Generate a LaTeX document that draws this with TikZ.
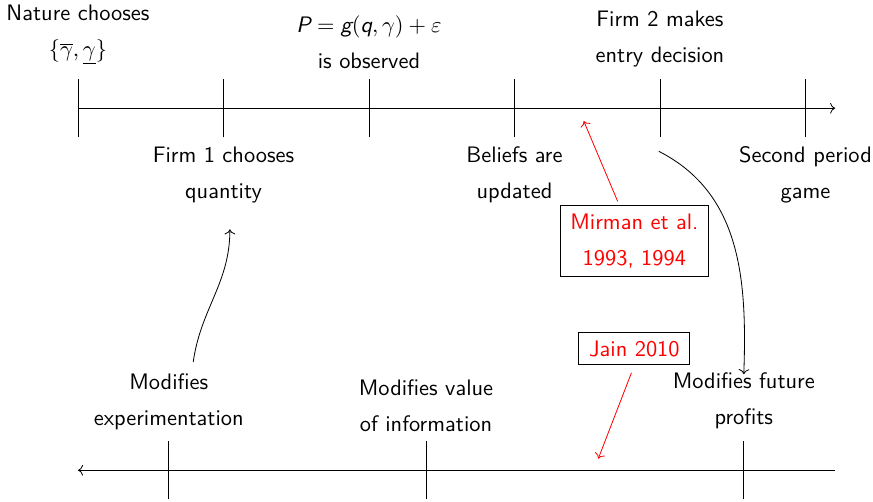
\documentclass[tikz,border=0pt]{standalone}
\usepackage{tikz}
\usetikzlibrary{arrows.meta,positioning,calc}
\newcommand{\sv}[1]{\textsf{\slshape #1}}

\begin{document}
\begin{tikzpicture}[
  lbl/.style={align=center,font=\sffamily\fontsize{10.95}{17.6}\selectfont},
  refbox/.style={rectangle,draw=black,text=red,align=center,inner xsep=5pt,inner ysep=4pt,font=\sffamily\fontsize{10.95}{17.6}\selectfont},
  tickmark/.style={thin},
  arr/.style={->,thin},
  redarr/.style={->,thin,draw=red}
]
\useasboundingbox (0,0) rectangle (15.0,8.61);
% first timeline
\draw[arr] (1.34,6.75) -- (14.35,6.75);
\foreach \x in {1.34,3.84,6.34,8.84,11.34,13.84}
  \draw[tickmark] (\x,6.25) -- (\x,7.25);
\node[lbl] (nat) at (1.34,8.01) {Nature chooses\\$\{\overline{\gamma},\underline{\gamma}\}$};
\node[lbl] (obs) at (6.34,7.88) {$\sv{P}=\sv{g}(\sv{q},\gamma)+\varepsilon$\\is observed};
\node[lbl] (entry) at (11.34,7.94) {Firm 2 makes\\entry decision};
\node[lbl] (qty) at (3.84,5.6) {Firm 1 chooses\\quantity};
\node[lbl] (upd) at (8.84,5.6) {Beliefs are\\updated};
\node[lbl] (game) at (13.84,5.6) {Second period\\game};
% second timeline
\draw[arr] (14.35,0.53) -- (1.34,0.53);
\foreach \x in {2.90,7.32,12.78}
  \draw[tickmark] (\x,0.03) -- (\x,1.03);
\node[lbl] (exper) at (2.90,1.70) {Modifies\\experimentation};
\node[lbl] (info) at (7.32,1.63) {Modifies value\\of information};
\node[lbl] (prof) at (12.78,1.72) {Modifies future\\profits};
% literature
\node[refbox] (mirman) at (10.90,4.47) {Mirman et al.\\1993, 1994};
\node[refbox] (jain) at (10.90,2.62) {Jain 2010};
\coordinate (mtip) at (10.03,6.53);
\coordinate (jtip) at (10.28,0.73);
\draw[redarr,shorten <=2pt] (mirman) -- (mtip);
\draw[redarr,shorten <=4pt] (jain.south) -- (jtip);
% links
\coordinate (exstart) at (3.32,2.39);
\coordinate (exend) at (3.95,4.67);
\coordinate (enstart) at (11.32,6.01);
\coordinate (enend) at (12.78,2.18);
\draw[arr] (exstart) to[out=82,in=-90] (exend);
\draw[arr] (enstart) to[out=-27,in=88] (enend);
\end{tikzpicture}
\end{document}
